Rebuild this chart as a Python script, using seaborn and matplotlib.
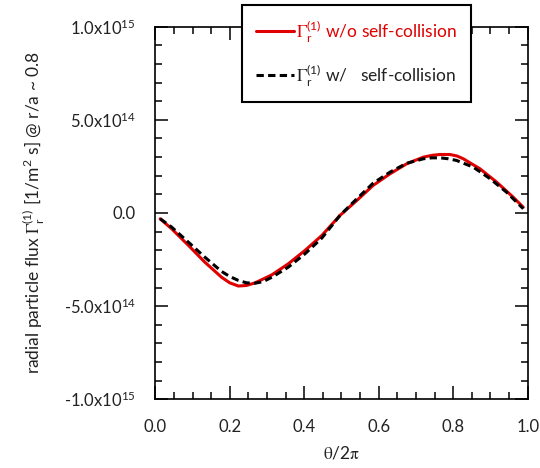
import numpy as np
import pandas as pd
import matplotlib
matplotlib.use("Agg")
import matplotlib.pyplot as plt
from matplotlib.ticker import MultipleLocator, FuncFormatter
from matplotlib.font_manager import FontProperties
import seaborn as sns

# ---- data ----
x_wo = [0.013, 0.044, 0.089, 0.133, 0.178, 0.200, 0.223, 0.245, 0.268, 0.313, 0.357, 0.402,
        0.447, 0.496, 0.541, 0.585, 0.630, 0.675, 0.720, 0.745, 0.765, 0.791, 0.810, 0.827,
        0.872, 0.917, 0.961, 0.988]
flux_wo = [-0.031, -0.085, -0.174, -0.264, -0.345, -0.375, -0.392, -0.389, -0.375, -0.332, -0.273, -0.201,
           -0.121, -0.013, 0.067, 0.148, 0.210, 0.264, 0.300, 0.310, 0.314, 0.314, 0.306, 0.291,
           0.237, 0.165, 0.085, 0.031]
x_w = [0.013, 0.044, 0.089, 0.133, 0.178, 0.200, 0.223, 0.245, 0.268, 0.290, 0.313, 0.357, 0.402,
       0.447, 0.496, 0.541, 0.585, 0.630, 0.675, 0.720, 0.743, 0.765, 0.787, 0.809, 0.854,
       0.899, 0.943, 0.988]
flux_w = [-0.031, -0.076, -0.157, -0.237, -0.314, -0.341, -0.362, -0.375, -0.377, -0.368, -0.345, -0.291, -0.219,
          -0.135, -0.013, 0.076, 0.160, 0.219, 0.267, 0.291, 0.296, 0.296, 0.291, 0.282, 0.246,
          0.184, 0.112, 0.023]
scale = 1e15

label_wo = r'$\Gamma_{\mathregular{r}}^{\mathregular{(1)}}$ w/o self-collision'
label_w = r'$\Gamma_{\mathregular{r}}^{\mathregular{(1)}}$ w/   self-collision'

df = pd.concat([
    pd.DataFrame({'x': x_wo, 'flux': np.array(flux_wo) * scale, 'case': label_wo}),
    pd.DataFrame({'x': x_w, 'flux': np.array(flux_w) * scale, 'case': label_w}),
])

sns.set_style('ticks')
plt.rcParams['font.family'] = ['Lato', 'DejaVu Sans']
plt.rcParams['mathtext.fontset'] = 'custom'
plt.rcParams['mathtext.rm'] = 'Lato'
plt.rcParams['mathtext.it'] = 'Lato:italic'
plt.rcParams['mathtext.bf'] = 'Lato:bold'

fig = plt.figure(figsize=(5.4, 4.68), dpi=100)
ax = fig.add_axes([0.2876, 0.1468, 0.6896, 0.7962])

red = '#e00000'
sns.lineplot(data=df[df.case == label_wo], x='x', y='flux', ax=ax, color=red,
             lw=2.2, label=label_wo, sort=False)
sns.lineplot(data=df[df.case == label_w], x='x', y='flux', ax=ax, color='black',
             lw=2.2, label=label_w, sort=False, linestyle=(0, (2.4, 1.4)))

ax.set_xlim(0, 1)
ax.set_ylim(-1e15, 1e15)
ax.xaxis.set_major_locator(MultipleLocator(0.2))
ax.xaxis.set_minor_locator(MultipleLocator(0.05))
ax.yaxis.set_major_locator(MultipleLocator(5e14))
ax.yaxis.set_minor_locator(MultipleLocator(1e14))

def yfmt(v, pos):
    if abs(v) < 1:
        return '0.0'
    e = int(np.floor(np.log10(abs(v)) + 1e-9))
    m = v / 10**e
    return r'%.1fx10$^{%d}$' % (m, e)

ax.yaxis.set_major_formatter(FuncFormatter(yfmt))
ax.xaxis.set_major_formatter(FuncFormatter(lambda v, p: '%.1f' % v))

for s in ax.spines.values():
    s.set_visible(True)
    s.set_linewidth(1.2)
    s.set_color('black')
ax.tick_params(which='both', direction='in', top=True, right=True, width=1.1,
               color='black', labelsize=12, labelcolor='#222222')
ax.tick_params(which='major', length=9.5)
ax.tick_params(which='minor', length=5)
ax.tick_params(axis='y', which='major', pad=14)
ax.tick_params(axis='x', which='major', pad=14)

ax.set_xlabel(r'$\mathrm{\theta}$/2$\mathrm{\pi}$', fontsize=12.5, math_fontfamily='stix',
              color='#222222', labelpad=7)
ax.set_ylabel(r'radial particle flux $\Gamma_{\mathregular{r}}^{\mathregular{(1)}}$ '
              r'[1/m$^{\mathregular{2}}$ s] @ r/a ~ 0.8', fontsize=12.5,
              math_fontfamily='stix', color='#222222', labelpad=13)

prop = FontProperties(family='Lato', size=12.5, math_fontfamily='stix')
leg = ax.legend(loc='upper left', bbox_to_anchor=(242 / 540, 1 - 5 / 468),
                bbox_transform=fig.transFigure, prop=prop, frameon=True,
                fancybox=False, framealpha=1, edgecolor='black',
                handlelength=2.2, handletextpad=0.1, labelspacing=1.1,
                borderpad=0.8, borderaxespad=0)
leg.get_frame().set_linewidth(1.5)
leg.texts[0].set_color(red)
leg.texts[1].set_color('#222222')

fig.savefig('out.png', dpi=100)
